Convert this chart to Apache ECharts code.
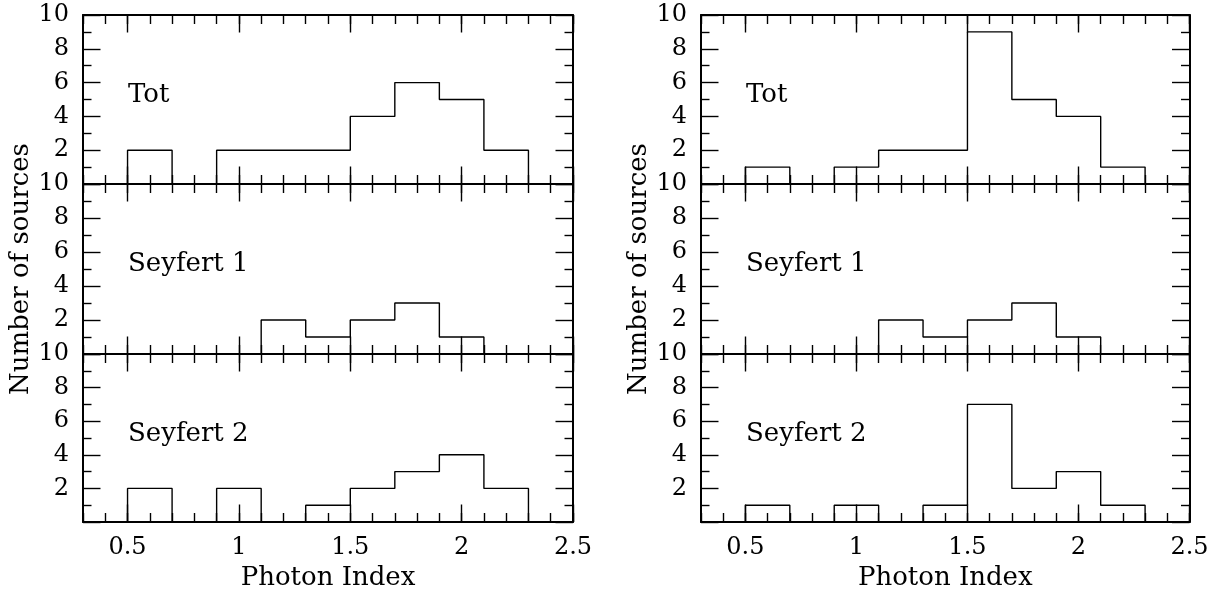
<!DOCTYPE html>
<html>
<head>
<meta charset="utf-8">
<script src="https://cdn.jsdelivr.net/npm/echarts@6/dist/echarts.min.js"></script>
<style>
  html, body { margin: 0; padding: 0; background: #fff; }
  #main { width: 1224px; height: 592px; }
</style>
</head>
<body>
<div id="main"></div>
<script>
// bin lower edges (photon index), each bin 0.2 wide
var binStart = [0.5, 0.7, 0.9, 1.1, 1.3, 1.5, 1.7, 1.9, 2.1];
var binWidth = 0.2;

// counts per bin, left figure
var leftTot  = [2, 0, 2, 2, 2, 4, 6, 5, 2];
var leftSey1 = [0, 0, 0, 2, 1, 2, 3, 1, 0];
var leftSey2 = [2, 0, 2, 0, 1, 2, 3, 4, 2];

// counts per bin, right figure
var rightTot  = [1, 0, 1, 2, 2, 9, 5, 4, 1];
var rightSey1 = [0, 0, 0, 2, 1, 2, 3, 1, 0];
var rightSey2 = [1, 0, 1, 0, 1, 7, 2, 3, 1];

var panelNames = ['Tot', 'Seyfert 1', 'Seyfert 2'];
var xLabels = [0.5, 1, 1.5, 2, 2.5];
var yLabels = [2, 4, 6, 8, 10];

var FONT = 'DejaVu Serif';
var myChart = echarts.init(document.getElementById('main'));

// histogram outline from the counts
function outline(counts) {
    var pts = [[binStart[0], 0]];
    counts.forEach(function (c, i) {
        var lo = binStart[i];
        var hi = +(lo + binWidth).toFixed(2);
        pts.push([lo, c]);
        pts.push([hi, c]);
    });
    pts.push([+(binStart[binStart.length - 1] + binWidth).toFixed(2), 0]);
    return pts;
}

var panels = [
    { col: 0, row: 0, data: leftTot },
    { col: 0, row: 1, data: leftSey1 },
    { col: 0, row: 2, data: leftSey2 },
    { col: 1, row: 0, data: rightTot },
    { col: 1, row: 1, data: rightSey1 },
    { col: 1, row: 2, data: rightSey2 }
];

var colLeft = [83, 701];
var colWidth = [490, 488.5];
var plotTop = 15;
var panelH = 169.3;

var grid = [], xAxis = [], yAxis = [], series = [], title = [];
var lineSt = { color: '#000', width: 2 };
var tickSt = { color: '#000', width: 1.4 };

panels.forEach(function (p, i) {
    var top = Math.round(plotTop + p.row * panelH);
    var bottom = Math.round(plotTop + (p.row + 1) * panelH);
    grid.push({ left: colLeft[p.col], top: top, width: colWidth[p.col], height: bottom - top });
    var bottomRow = p.row === 2;

    // bottom, short ticks
    xAxis.push({
        gridIndex: i, type: 'value', position: 'bottom', min: 0.3, max: 2.5, interval: 0.1,
        axisLine: { show: true, onZero: false, lineStyle: lineSt },
        axisTick: { show: true, inside: true, length: 9, lineStyle: tickSt },
        axisLabel: {
            show: bottomRow, customValues: xLabels, margin: 14,
            color: '#000', fontFamily: FONT, fontSize: 24
        },
        splitLine: { show: false },
        name: bottomRow ? 'Photon Index' : '',
        nameLocation: 'middle', nameGap: 43,
        nameTextStyle: { color: '#000', fontFamily: FONT, fontSize: 26 }
    });
    // bottom, long ticks
    xAxis.push({
        gridIndex: i, type: 'value', position: 'bottom', min: 0.3, max: 2.5,
        axisLine: { show: false, onZero: false },
        axisTick: { show: true, inside: true, length: 17.5, customValues: xLabels, lineStyle: tickSt },
        axisLabel: { show: false }, splitLine: { show: false }
    });
    // top, short ticks
    xAxis.push({
        gridIndex: i, type: 'value', position: 'top', min: 0.3, max: 2.5, interval: 0.1,
        axisLine: { show: true, onZero: false, lineStyle: lineSt },
        axisTick: { show: true, inside: true, length: 9, lineStyle: tickSt },
        axisLabel: { show: false }, splitLine: { show: false }
    });
    // top, long ticks
    xAxis.push({
        gridIndex: i, type: 'value', position: 'top', min: 0.3, max: 2.5,
        axisLine: { show: false, onZero: false },
        axisTick: { show: true, inside: true, length: 17.5, customValues: xLabels, lineStyle: tickSt },
        axisLabel: { show: false }, splitLine: { show: false }
    });

    yAxis.push({
        gridIndex: i, type: 'value', position: 'left', min: 0, max: 10, interval: 2,
        axisLine: { show: true, onZero: false, lineStyle: lineSt },
        axisTick: { show: true, inside: true, length: 17.5, lineStyle: tickSt },
        minorTick: { show: true, splitNumber: 2, length: 8.5, lineStyle: tickSt },
        axisLabel: { customValues: yLabels, margin: 14, color: '#000', fontFamily: FONT, fontSize: 24 },
        splitLine: { show: false }, minorSplitLine: { show: false },
        name: p.row === 1 ? 'Number of sources' : '',
        nameLocation: 'middle', nameGap: 48,
        nameTextStyle: { color: '#000', fontFamily: FONT, fontSize: 26 }
    });
    yAxis.push({
        gridIndex: i, type: 'value', position: 'right', min: 0, max: 10, interval: 2,
        axisLine: { show: true, onZero: false, lineStyle: lineSt },
        axisTick: { show: true, inside: true, length: 17.5, lineStyle: tickSt },
        minorTick: { show: true, splitNumber: 2, length: 8.5, lineStyle: tickSt },
        axisLabel: { show: false },
        splitLine: { show: false }, minorSplitLine: { show: false }
    });

    series.push({
        type: 'line',
        xAxisIndex: i * 4,
        yAxisIndex: i * 2,
        data: outline(p.data),
        symbol: 'none',
        lineStyle: { color: '#000', width: 1.4 },
        animation: false
    });

    title.push({
        text: panelNames[p.row],
        left: colLeft[p.col] + 45,
        top: top + 67,
        padding: 0,
        textStyle: { color: '#000', fontFamily: FONT, fontSize: 26, fontWeight: 'normal' }
    });
});

var option = {
    backgroundColor: '#fff',
    animation: false,
    title: title,
    grid: grid,
    xAxis: xAxis,
    yAxis: yAxis,
    series: series
};

myChart.setOption(option);
</script>
</body>
</html>
